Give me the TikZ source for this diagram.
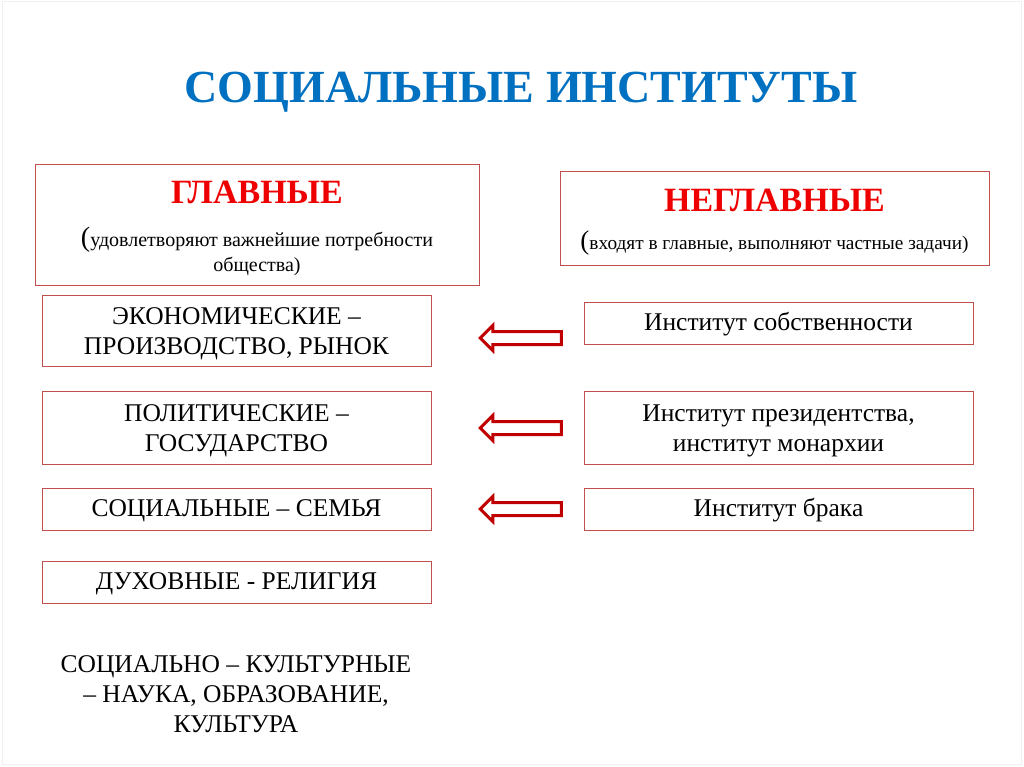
\documentclass[tikz,border=0pt]{standalone}
\usepackage{fontspec}
\setmainfont{Liberation Serif}
\usetikzlibrary{shapes.arrows}
\definecolor{titleblue}{RGB}{0,112,192}
\definecolor{boxred}{RGB}{192,80,77}
\definecolor{arrowred}{RGB}{192,0,0}
\definecolor{headred}{RGB}{238,0,0}

\begin{document}
\begin{tikzpicture}[x=1pt, y=-1pt,
    institut/.style ={rectangle, draw=boxred, line width=1pt, align=center, inner sep=0pt,
                      minimum width=389pt, font=\fontsize{25.5}{30}\selectfont},
    oneline/.style ={institut, minimum height=42pt, text height=17pt, text depth=2pt},
    twoline/.style ={institut, text height=48pt, text depth=0pt},
    heading/.style ={text=headred, font=\fontsize{34}{40}\selectfont\bfseries},
    remark/.style ={align=center, inner sep=0pt},
    pointer/.style ={single arrow, shape border rotate=180, draw=arrowred, line width=3pt,
                     fill=white, inner xsep=0pt, inner ysep=5pt, minimum height=81pt,
                     single arrow head extend=6pt}]
   \useasboundingbox (0,0) rectangle (1024,767);
   \draw[gray!12, line width=1pt] (2,2) rectangle (1021,764);

   \node[text=titleblue, font=\fontsize{46}{54}\selectfont\bfseries] (title) at (521,92)
        {СОЦИАЛЬНЫЕ ИНСТИТУТЫ};

   % главные
   \node[institut, minimum width=444pt, minimum height=120pt] (glav) at (257,225) {};
   \node[heading] (glavH) at (257,192) {ГЛАВНЫЕ};
   \node[remark, font=\fontsize{20}{25}\selectfont] (glavR) at (257,251)
        {{\fontsize{28}{28}\selectfont(}удовлетворяют важнейшие потребности\\общества)};

   % неглавные
   \node[institut, minimum width=429pt, minimum height=93pt] (neglav) at (774.5,218.5) {};
   \node[heading] (neglavH) at (774.5,200) {НЕГЛАВНЫЕ};
   \node[remark, font=\fontsize{19.3}{22}\selectfont] (neglavR) at (774.5,243)
        {{\fontsize{27}{27}\selectfont(}входят в главные, выполняют частные задачи)};

   % левый столбец
   \node[twoline, minimum height=71pt] (econ) at (236.5,330.5) {ЭКОНОМИЧЕСКИЕ –\\ПРОИЗВОДСТВО, РЫНОК};
   \node[twoline, minimum height=73pt] (polit) at (236.5,427.5) {ПОЛИТИЧЕСКИЕ –\\ГОСУДАРСТВО};
   \node[oneline] (soc) at (236.5,509) {СОЦИАЛЬНЫЕ – СЕМЬЯ};
   \node[oneline] (duh) at (236.5,582) {ДУХОВНЫЕ - РЕЛИГИЯ};
   \node[align=center, font=\fontsize{25.5}{30}\selectfont] (kult) at (236,694)
        {СОЦИАЛЬНО – КУЛЬТУРНЫЕ\\– НАУКА, ОБРАЗОВАНИЕ,\\КУЛЬТУРА};

   % правый столбец
   \node[oneline] (sobst) at (778.5,323) {Институт собственности};
   \node[twoline, minimum height=73pt] (prez) at (778.5,427.5) {Институт президентства,\\институт монархии};
   \node[oneline] (brak) at (778.5,509) {Институт брака};

   \node[pointer] (p1) at (524,338) {};
   \node[pointer] (p2) at (524,428) {};
   \node[pointer] (p3) at (524,509) {};
\end{tikzpicture}
\end{document}
